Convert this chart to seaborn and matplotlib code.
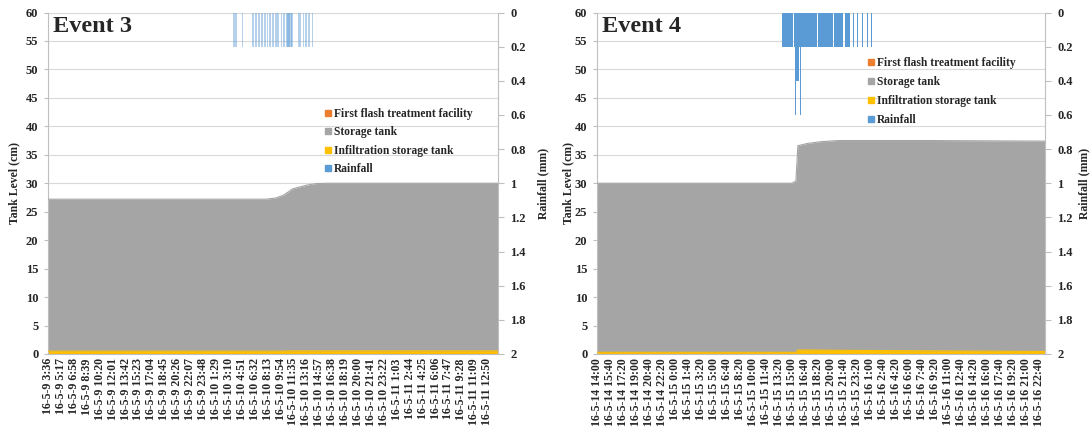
import matplotlib
matplotlib.use("Agg")
import matplotlib.pyplot as plt
from matplotlib.lines import Line2D
from datetime import datetime
import numpy as np
import pandas as pd
import seaborn as sns

# ---------------- data ----------------
# Event 3: tick labels (every 101 min)
ticks3 = ["16-5-9 3:36", "16-5-9 5:17", "16-5-9 6:58", "16-5-9 8:39", "16-5-9 10:20",
          "16-5-9 12:01", "16-5-9 13:42", "16-5-9 15:23", "16-5-9 17:04", "16-5-9 18:45",
          "16-5-9 20:26", "16-5-9 22:07", "16-5-9 23:48", "16-5-10 1:29", "16-5-10 3:10",
          "16-5-10 4:51", "16-5-10 6:32", "16-5-10 8:13", "16-5-10 9:54", "16-5-10 11:35",
          "16-5-10 13:16", "16-5-10 14:57", "16-5-10 16:38", "16-5-10 18:19", "16-5-10 20:00",
          "16-5-10 21:41", "16-5-10 23:22", "16-5-11 1:03", "16-5-11 2:44", "16-5-11 4:25",
          "16-5-11 6:06", "16-5-11 7:47", "16-5-11 9:28", "16-5-11 11:09", "16-5-11 12:50"]
# Event 4: tick labels (every 100 min)
ticks4 = ["16-5-14 14:00", "16-5-14 15:40", "16-5-14 17:20", "16-5-14 19:00", "16-5-14 20:40",
          "16-5-14 22:20", "16-5-15 0:00", "16-5-15 1:40", "16-5-15 3:20", "16-5-15 5:00",
          "16-5-15 6:40", "16-5-15 8:20", "16-5-15 10:00", "16-5-15 11:40", "16-5-15 13:20",
          "16-5-15 15:00", "16-5-15 16:40", "16-5-15 18:20", "16-5-15 20:00", "16-5-15 21:40",
          "16-5-15 23:20", "16-5-16 1:00", "16-5-16 2:40", "16-5-16 4:20", "16-5-16 6:00",
          "16-5-16 7:40", "16-5-16 9:20", "16-5-16 11:00", "16-5-16 12:40", "16-5-16 14:20",
          "16-5-16 16:00", "16-5-16 17:40", "16-5-16 19:20", "16-5-16 21:00", "16-5-16 22:40"]

# record length (minutes from first timestamp)
span3 = 3518
span4 = 3446

# tank levels (cm), minutes from start of each event
t3 = [0, 1700, 1780, 1840, 1880, 1910, 1960, 2030, 2100, 2200, 3518]
storage3 = [27.2, 27.2, 27.4, 27.9, 28.5, 29.0, 29.3, 29.7, 29.95, 30.0, 30.0]
infil3 = [0.5, 0.5, 0.5, 0.52, 0.55, 0.55, 0.55, 0.55, 0.55, 0.55, 0.55]
flash3 = [0.0] * 11

t4 = [0, 1500, 1530, 1545, 1620, 1720, 1850, 2600, 3446]
storage4 = [30.0, 30.0, 30.4, 36.6, 37.0, 37.3, 37.5, 37.5, 37.4]
infil4 = [0.3, 0.3, 0.3, 0.7, 0.7, 0.68, 0.65, 0.55, 0.45]
flash4 = [0.0] * 9

# rainfall tips (minutes from start) and depth (mm)
rain_t3 = [1449, 1451, 1454, 1456, 1459, 1462, 1465, 1468, 1471, 1474, 1477, 1519,
           1597, 1604, 1610, 1616, 1621, 1627, 1633, 1639, 1645, 1650, 1655, 1662, 1668,
           1674, 1680, 1685, 1690, 1697, 1703, 1709, 1714, 1720, 1725, 1731, 1737, 1742,
           1748, 1754, 1760, 1766, 1771, 1777, 1783, 1789, 1794, 1800, 1805, 1812, 1818,
           1824, 1829, 1835, 1840, 1846, 1851, 1858,
           1864, 1866, 1869, 1872, 1875, 1878, 1880, 1882, 1885, 1887, 1889, 1892, 1894,
           1896, 1899, 1901, 1903, 1906, 1909,
           1956, 1961, 1966, 1972, 1978, 1984, 1990, 1995, 2001, 2007, 2013, 2019, 2025,
           2031, 2036, 2042, 2048, 2054, 2060, 2066, 2072, 2078]
rain_mm3 = [0.2] * len(rain_t3)

rain_t4 = [1421, 1428, 1435, 1442, 1449, 1456, 1463, 1470, 1477, 1484, 1491, 1498,
           1514, 1521, 1523, 1530, 1537, 1544, 1549, 1556, 1561, 1563, 1570, 1577,
           1584, 1591, 1598, 1605, 1612, 1619, 1626, 1633, 1640, 1647, 1654, 1661,
           1668, 1675, 1682,
           1698, 1705, 1712, 1719, 1726, 1733, 1740, 1747, 1754, 1761, 1768, 1775,
           1782, 1789, 1796, 1803, 1810,
           1826, 1833, 1840, 1847, 1854, 1861, 1868, 1875, 1882, 1889,
           1904, 1911, 1918, 1925, 1932, 1939,
           1972, 2003, 2037, 2075, 2108]
rain_mm4 = [0.2] * len(rain_t4)
for i, t in enumerate(rain_t4):
    if t in (1523, 1561):
        rain_mm4[i] = 0.6
    elif t in (1530, 1537, 1544):
        rain_mm4[i] = 0.4

series_names = ["First flash treatment facility", "Storage tank",
                "Infiltration storage tank", "Rainfall"]
colors = ["#ED7D31", "#A5A5A5", "#FFC000", "#5B9BD5"]

# ---------------- style ----------------
sns.set_style("white")
plt.rcParams["font.family"] = ["Liberation Serif", "DejaVu Serif"]
plt.rcParams["font.weight"] = "bold"

fig = plt.figure(figsize=(10.9, 4.3), dpi=100)
W, H = 1090, 430


def add_axes(x0, x1, y0, y1):
    return fig.add_axes([x0 / W, 1 - y1 / H, (x1 - x0) / W, (y1 - y0) / H])


def to_minutes(labels):
    ts = [datetime.strptime("20" + s, "%Y-%m-%d %H:%M") for s in labels]
    return [(t - ts[0]).total_seconds() / 60 for t in ts]


def panel(ax, title, tlabels, span, t, flash, storage, infil, rt, rmm, bar_w, bar_alpha,
          leg_xy, leg_sp, ylab_x, rlab_x):
    df = pd.DataFrame({"t": t, "flash": flash, "storage": storage, "infil": infil})
    # level areas
    for col, c in zip(["flash", "storage", "infil"], colors[:3]):
        ax.fill_between(df["t"], 0, df[col], color=c, lw=0, zorder=2)
        sns.lineplot(data=df, x="t", y=col, ax=ax, color=c, lw=0.8, zorder=3)
    ax.set_xlim(0, span)
    ax.set_ylim(0, 60)
    ax.set_yticks(range(0, 61, 5))
    ax.grid(axis="y", color="#D9D9D9", lw=0.8, zorder=0)
    ax.grid(axis="x", visible=False)
    ax.set_xticks(to_minutes(tlabels))
    ax.set_xticklabels(tlabels, rotation=90, fontsize=8.6, fontweight="bold")
    ax.tick_params(axis="x", length=0, pad=3)
    ax.tick_params(axis="y", labelsize=9, length=3, direction="out", color="#BFBFBF", pad=4,
                   left=True)
    for lab in ax.get_yticklabels():
        lab.set_fontweight("bold")
    ax.set_xlabel("")
    ax.set_ylabel("Tank Level (cm)", fontsize=8.5, fontweight="bold")
    ax.yaxis.set_label_coords(ylab_x, 0.5)
    for s in ["top", "right"]:
        ax.spines[s].set_visible(False)
    for s in ["left", "bottom"]:
        ax.spines[s].set_color("#BFBFBF")
        ax.spines[s].set_linewidth(0.8)
    ax.text(0.011, 0.99, title, transform=ax.transAxes, fontsize=17.5, fontweight="bold",
            va="top", ha="left", zorder=5)

    # rainfall on a reversed secondary axis
    ax2 = ax.twinx()
    ax2.bar(rt, rmm, width=bar_w, align="edge", color=colors[3], alpha=bar_alpha,
            lw=0, zorder=3)
    ax2.set_ylim(2, 0)
    ax2.set_yticks(np.arange(0, 2.01, 0.2))
    ax2.set_yticklabels(["0", "0.2", "0.4", "0.6", "0.8", "1", "1.2", "1.4", "1.6", "1.8", "2"])
    ax2.tick_params(axis="y", labelsize=9, length=4, direction="out", color="#BFBFBF", pad=5,
                    right=True)
    for lab in ax2.get_yticklabels():
        lab.set_fontweight("bold")
    ax2.set_ylabel("Rainfall (mm)", fontsize=8.5, fontweight="bold", rotation=90)
    ax2.yaxis.set_label_coords(rlab_x, 0.5)
    ax2.grid(False)
    for s in ["top", "left", "bottom"]:
        ax2.spines[s].set_visible(False)
    ax2.spines["right"].set_color("#BFBFBF")
    ax2.spines["right"].set_linewidth(0.8)

    handles = [Line2D([], [], marker="s", ls="none", color=c, markersize=4) for c in colors]
    leg = ax2.legend(handles, series_names, loc="upper left", bbox_to_anchor=leg_xy,
                     frameon=False, fontsize=8.3, handlelength=0.6, handletextpad=0.2,
                     labelspacing=leg_sp, borderpad=0, borderaxespad=0)
    for txt in leg.get_texts():
        txt.set_fontweight("bold")
    return ax2


ax_a = add_axes(48, 498, 12.5, 354)
panel(ax_a, "Event 3", ticks3, span3, t3, flash3, storage3, infil3,
      rain_t3, rain_mm3, 3.5, 0.45, (0.615, 0.72), 0.55, -0.062, 1.087)

ax_b = add_axes(597, 1045, 12.5, 354)
panel(ax_b, "Event 4", ticks4, span4, t4, flash4, storage4, infil4,
      rain_t4, rain_mm4, 7, 1.0, (0.605, 0.87), 0.6, -0.05, 1.074)

fig.savefig("out.png", dpi=100)
